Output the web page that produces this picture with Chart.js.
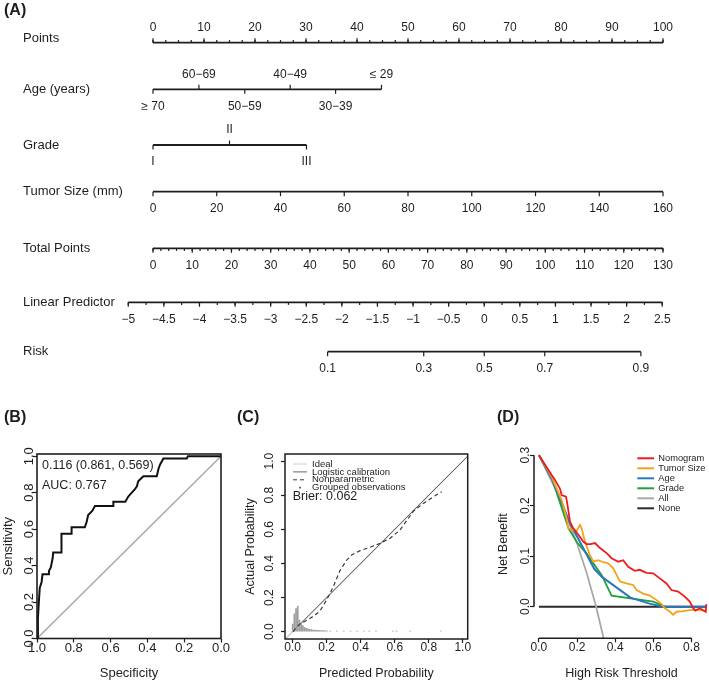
<!DOCTYPE html>
<html>
<head>
<meta charset="utf-8">
<title>Nomogram, ROC, calibration and decision curves</title>
<script src="https://cdn.jsdelivr.net/npm/chart.js@4.4.1/dist/chart.umd.min.js"></script>
<style>
  html, body { margin: 0; padding: 0; background: #fff; }
  #fig { position: relative; width: 709px; height: 682px; overflow: hidden;
         font-family: "Liberation Sans", Arial, sans-serif; color: #1e1e1e; }
  #fig canvas { position: absolute; }
  .tag { position: absolute; font-weight: bold; font-size: 16px; line-height: 18px; }
</style>
</head>
<body>
<div id="fig">
  <canvas id="nomo" width="709" height="400" style="left:0;top:0"></canvas>
  <canvas id="roc" width="232" height="282" style="left:0;top:400px"></canvas>
  <canvas id="cal" width="245" height="282" style="left:230px;top:400px"></canvas>
  <canvas id="dca" width="244" height="282" style="left:465px;top:400px"></canvas>
  <div class="tag" style="left:4px;top:1px">(A)</div>
  <div class="tag" style="left:4px;top:408px">(B)</div>
  <div class="tag" style="left:237px;top:408px">(C)</div>
  <div class="tag" style="left:497px;top:408px">(D)</div>
</div>
<script>
const FONT = '"Liberation Sans", Arial, Helvetica, sans-serif';
const INK = '#1e1e1e';

// ---------- (A) nomogram ----------
const pointsTicks = [0, 10, 20, 30, 40, 50, 60, 70, 80, 90, 100];
const ageLabels = ['≥ 70', '60−69', '50−59', '40−49', '30−39', '≤ 29'];
const agePoints = [0, 9, 18, 26.9, 35.8, 44.8];
const gradeLabels = ['I', 'II', 'III'];
const gradePoints = [0, 15, 30.1];
const tumorTicks = [0, 20, 40, 60, 80, 100, 120, 140, 160];
const totalTicks = [0, 10, 20, 30, 40, 50, 60, 70, 80, 90, 100, 110, 120, 130];
const lpTicks = [-5, -4.5, -4, -3.5, -3, -2.5, -2, -1.5, -1, -0.5, 0, 0.5, 1, 1.5, 2, 2.5];
const riskTicks = [0.1, 0.3, 0.5, 0.7, 0.9];
const riskLP = [-2.2, -0.85, 0, 0.85, 2.2];

// ---------- (B) ROC ----------
const rocSpec = [1.0, 0.995, 0.99, 0.985, 0.975, 0.97, 0.94, 0.935, 0.925, 0.915, 0.912, 0.867, 0.867,
  0.812, 0.812, 0.74, 0.73, 0.722, 0.70, 0.685, 0.585, 0.585, 0.52, 0.504, 0.485, 0.47, 0.457, 0.45,
  0.422, 0.349, 0.34, 0.331, 0.313, 0.186, 0.18, 0.0];
const rocSens = [0.0, 0.11, 0.2, 0.277, 0.31, 0.352, 0.352, 0.37, 0.39, 0.44, 0.472, 0.472, 0.574,
  0.574, 0.61, 0.61, 0.64, 0.677, 0.70, 0.727, 0.727, 0.75, 0.75, 0.779, 0.80, 0.816, 0.835, 0.863,
  0.89, 0.89, 0.93, 0.955, 0.987, 0.987, 1.0, 1.0];
const rocTicks = [0, 0.2, 0.4, 0.6, 0.8, 1.0];

// ---------- (C) calibration ----------
const calX = [0.004, 0.02, 0.043, 0.08, 0.121, 0.16, 0.19, 0.215, 0.239, 0.278, 0.318, 0.347, 0.396,
  0.455, 0.514, 0.572, 0.631, 0.71, 0.768, 0.827, 0.876];
const calY = [0.0, 0.025, 0.045, 0.065, 0.09, 0.12, 0.17, 0.215, 0.264, 0.358, 0.42, 0.45, 0.475,
  0.495, 0.518, 0.547, 0.596, 0.707, 0.752, 0.791, 0.82];
const logisticX = [0.0, 1.05];
const logisticY = [0.0, 1.05];
const idealX = [-0.05, 1.05];
const idealY = [-0.05, 1.05];
const spikeX = [0.0, 0.01, 0.02, 0.03, 0.04, 0.05, 0.06, 0.07, 0.08, 0.09, 0.10, 0.11, 0.12, 0.13,
  0.14, 0.15, 0.16, 0.17, 0.18, 0.19, 0.20, 0.22, 0.26, 0.30, 0.34, 0.38, 0.42, 0.45, 0.49, 0.59, 0.61,
  0.69, 0.87];
const spikeH = [0.045, 0.105, 0.135, 0.15, 0.068, 0.05, 0.035, 0.025, 0.02, 0.016, 0.014, 0.012, 0.01,
  0.009, 0.008, 0.008, 0.007, 0.006, 0.006, 0.005, 0.005, 0.004, 0.004, 0.004, 0.004, 0.004, 0.004,
  0.004, 0.004, 0.004, 0.004, 0.004, 0.004];
const calTicks = [0, 0.2, 0.4, 0.6, 0.8, 1.0];

// ---------- (D) decision curves ----------
const thrNomo = [0, 0.066, 0.084, 0.11, 0.119, 0.142, 0.149, 0.163, 0.18, 0.206, 0.232, 0.25, 0.27,
  0.294, 0.32, 0.355, 0.381, 0.416, 0.442, 0.468, 0.503, 0.529, 0.564, 0.599, 0.634, 0.669, 0.695,
  0.73, 0.765, 0.791, 0.809, 0.82, 0.844, 0.861, 0.875, 0.878];
const nbNomo = [0.3, 0.261, 0.251, 0.234, 0.221, 0.218, 0.203, 0.168, 0.155, 0.143, 0.129, 0.124, 0.124,
  0.126, 0.116, 0.106, 0.096, 0.089, 0.092, 0.079, 0.071, 0.073, 0.067, 0.066, 0.056, 0.046, 0.033,
  0.03, 0.02, 0.01, -0.003, -0.008, -0.003, -0.007, -0.01, 0.005];
const thrTumor = [0, 0.066, 0.12, 0.145, 0.154, 0.18, 0.197, 0.215, 0.224, 0.241, 0.267, 0.285, 0.311,
  0.337, 0.363, 0.39, 0.407, 0.425, 0.459, 0.494, 0.512, 0.547, 0.582, 0.617, 0.643, 0.66, 0.687,
  0.704, 0.722, 0.756, 0.791, 0.826, 0.861, 0.878];
const nbTumor = [0.3, 0.258, 0.21, 0.175, 0.155, 0.152, 0.15, 0.162, 0.155, 0.129, 0.102, 0.089, 0.092,
  0.088, 0.086, 0.076, 0.063, 0.05, 0.046, 0.043, 0.033, 0.026, 0.022, 0.013, 0.005, -0.003, -0.01,
  -0.016, -0.01, -0.009, -0.007, -0.006, -0.008, -0.008];
const thrAge = [0, 0.07, 0.163, 0.29, 0.33, 0.48, 0.58, 0.65, 0.878];
const nbAge = [0.3, 0.252, 0.165, 0.075, 0.059, 0.018, 0.006, 0.0, 0.0];
const thrGrade = [0, 0.07, 0.155, 0.2, 0.25, 0.33, 0.381, 0.6, 0.66];
const nbGrade = [0.3, 0.252, 0.155, 0.127, 0.105, 0.062, 0.022, 0.01, 0.0];
const thrAll = [0, 0.1, 0.2, 0.25, 0.3, 0.35];
const nbAll = [0.3, 0.222, 0.125, 0.067, 0.0, -0.08];
const thrNone = [0, 0.878];
const nbNone = [0, 0];
const dcaXTicks = [0, 0.2, 0.4, 0.6, 0.8];
const dcaYTicks = [0, 0.1, 0.2, 0.3];

Chart.defaults.font.family = FONT;
Chart.defaults.color = INK;
Chart.defaults.animation = false;
Chart.defaults.events = [];
Chart.defaults.plugins.legend.display = false;
Chart.defaults.plugins.tooltip.enabled = false;

const fmt = v => (v < 0 ? '−' + Math.abs(v) : String(v));
const pts = (xs, ys) => xs.map((x, i) => ({ x: x, y: ys[i] }));
function stepTicks(a, b, step) {
  const out = [];
  for (let v = a; v <= b + 1e-9; v += step) out.push(+v.toFixed(4));
  return out;
}
function curve(label, xs, ys, color, width, dash) {
  return { label: label, data: pts(xs, ys), showLine: true, borderColor: color, backgroundColor: color,
    borderWidth: width, borderDash: dash || [], pointRadius: 0, tension: 0 };
}

// ---- nomogram ----
const tumorPts = v => v * 100 / 160;
const totalPts = v => v * 100 / 130;
const lpPts = v => 64.95 + v * 13.96;

const nomoRows = [
  { name: 'Points', line: [0, 100],
    major: pointsTicks.map(v => ({ p: v, text: fmt(v), up: true })),
    minor: stepTicks(0, 100, 2.5).map(v => ({ p: v, up: true })) },
  { name: 'Age (years)', line: [agePoints[0], agePoints[agePoints.length - 1]],
    major: ageLabels.map((t, i) => ({ p: agePoints[i], text: t, up: i % 2 === 1 })), minor: [] },
  { name: 'Grade', line: [gradePoints[0], gradePoints[gradePoints.length - 1]],
    major: gradeLabels.map((t, i) => ({ p: gradePoints[i], text: t, up: i === 1 })), minor: [] },
  { name: 'Tumor Size (mm)', line: [tumorPts(0), tumorPts(160)],
    major: tumorTicks.map(v => ({ p: tumorPts(v), text: fmt(v) })), minor: [] },
  { name: 'Total Points', line: [totalPts(0), totalPts(130)],
    major: totalTicks.map(v => ({ p: totalPts(v), text: fmt(v) })),
    minor: stepTicks(0, 130, 2).map(v => ({ p: totalPts(v) })) },
  { name: 'Linear Predictor', line: [lpPts(-5), lpPts(2.5)],
    major: lpTicks.map(v => ({ p: lpPts(v), text: fmt(v) })),
    minor: stepTicks(-5, 2.5, 0.25).map(v => ({ p: lpPts(v) })) },
  { name: 'Risk', line: [lpPts(riskLP[0]), lpPts(riskLP[riskLP.length - 1])],
    major: riskTicks.map((v, i) => ({ p: lpPts(riskLP[i]), text: fmt(v) })), minor: [] }
];
// layout: vertical place of each axis line, and nudge of its name
const rowY = [42.7, 89.3, 145, 191.7, 248.3, 302.3, 351.7];
const nameDy = [-4, 0, 0, 0, 0, 0, 0];

const nomoPlugin = {
  id: 'nomo',
  afterDatasetsDraw(chart) {
    const { ctx, scales: { x, y } } = chart;
    ctx.save();
    ctx.strokeStyle = INK;
    ctx.fillStyle = INK;
    ctx.lineWidth = 1.2;
    nomoRows.forEach((r, i) => {
      const py = y.getPixelForValue(rowY[i]);
      const draw = (t, len) => {
        const px = x.getPixelForValue(t.p);
        const dir = t.up ? -1 : 1;
        ctx.beginPath();
        ctx.moveTo(px, py);
        ctx.lineTo(px, py + dir * len);
        ctx.stroke();
      };
      r.minor.forEach(t => draw(t, 2.6));
      ctx.font = '12px ' + FONT;
      ctx.textAlign = 'center';
      ctx.textBaseline = 'middle';
      r.major.forEach(t => {
        draw(t, 4.5);
        ctx.fillText(t.text, x.getPixelForValue(t.p), py + (t.up ? -15 : 17));
      });
      ctx.font = '13px ' + FONT;
      ctx.textAlign = 'left';
      ctx.fillText(r.name, 23, py + nameDy[i]);
    });
    ctx.restore();
  }
};

new Chart(document.getElementById('nomo'), {
  type: 'scatter',
  data: { datasets: nomoRows.map((r, i) => curve(r.name, r.line, [rowY[i], rowY[i]], INK, 1.8)) },
  options: {
    responsive: false,
    layout: { padding: 0 },
    scales: {
      x: { type: 'linear', display: false, min: -30, max: 109.02 },
      y: { type: 'linear', display: false, min: 0, max: 400, reverse: true }
    }
  },
  plugins: [nomoPlugin]
});

// ---- shared helpers for the small panels ----
const framePlugin = {
  id: 'frame',
  afterDraw(chart, args, o) {
    const a = chart.chartArea, ctx = chart.ctx;
    ctx.save();
    ctx.strokeStyle = INK;
    ctx.lineWidth = o.width || 1.5;
    ctx.strokeRect(a.left, a.top, a.width, a.height);
    ctx.restore();
  }
};
const rotYTicks = {
  id: 'rotY',
  afterDraw(chart, args, o) {
    const s = chart.scales.y, ctx = chart.ctx;
    ctx.save();
    ctx.font = o.size + 'px ' + FONT;
    ctx.fillStyle = INK;
    ctx.textAlign = 'center';
    ctx.textBaseline = 'middle';
    s.ticks.forEach(t => {
      ctx.save();
      ctx.translate(chart.chartArea.left - o.offset, s.getPixelForValue(t.value));
      ctx.rotate(-Math.PI / 2);
      ctx.fillText(t.value.toFixed(1), 0, 0);
      ctx.restore();
    });
    ctx.restore();
  }
};
const notePlugin = {
  id: 'notes',
  afterDraw(chart, args, o) {
    const a = chart.chartArea, ctx = chart.ctx;
    ctx.save();
    ctx.fillStyle = INK;
    ctx.textAlign = 'left';
    ctx.textBaseline = 'middle';
    o.items.forEach(n => {
      ctx.font = n.size + 'px ' + FONT;
      ctx.fillText(n.text, a.left + n.dx, a.top + n.dy);
    });
    ctx.restore();
  }
};
const keyPlugin = {
  id: 'keys',
  afterDraw(chart, args, o) {
    const a = chart.chartArea, ctx = chart.ctx;
    ctx.save();
    ctx.font = o.size + 'px ' + FONT;
    ctx.textAlign = 'left';
    ctx.textBaseline = 'middle';
    o.items.forEach((k, i) => {
      const yy = a.top + o.top + i * o.step;
      const x0 = a.left + o.left;
      ctx.strokeStyle = k.color;
      ctx.fillStyle = k.color;
      if (k.dot) {
        ctx.beginPath();
        ctx.arc(x0 + o.len / 2, yy, 0.9, 0, Math.PI * 2);
        ctx.fill();
      } else {
        ctx.lineWidth = k.width;
        ctx.setLineDash(k.dash || []);
        ctx.beginPath();
        ctx.moveTo(x0, yy);
        ctx.lineTo(x0 + o.len, yy);
        ctx.stroke();
        ctx.setLineDash([]);
      }
      ctx.fillStyle = INK;
      ctx.fillText(k.label, x0 + o.len + o.gap, yy);
    });
    ctx.restore();
  }
};
const axisLinePlugin = {
  id: 'axisLines',
  afterDraw(chart, args, o) {
    const { x, y } = chart.scales, a = chart.chartArea, ctx = chart.ctx;
    ctx.save();
    ctx.strokeStyle = INK;
    ctx.lineWidth = 1.5;
    ctx.beginPath();
    ctx.moveTo(x.getPixelForValue(o.x[0]), a.bottom);
    ctx.lineTo(x.getPixelForValue(o.x[1]), a.bottom);
    ctx.moveTo(a.left, y.getPixelForValue(o.y[0]));
    ctx.lineTo(a.left, y.getPixelForValue(o.y[1]));
    ctx.stroke();
    ctx.restore();
  }
};
const tickGrid = { display: true, drawOnChartArea: false, drawTicks: true, tickLength: 4,
  tickColor: INK, tickWidth: 1.2 };
function xAxis(opt) {
  return {
    type: 'linear', min: opt.min, max: opt.max, reverse: !!opt.reverse, offset: false,
    afterBuildTicks: s => { s.ticks = opt.ticks.map(v => ({ value: v })); },
    afterFit: s => { s.height = opt.height; },
    ticks: { autoSkip: false, maxRotation: 0, padding: opt.pad, callback: v => v.toFixed(1),
      font: { size: opt.size, lineHeight: 1.2 }, color: INK },
    grid: Object.assign({ offset: false }, tickGrid),
    border: { display: false },
    title: { display: true, text: opt.title, color: INK, font: { size: opt.titleSize, lineHeight: 1.2 },
      padding: { top: 0, bottom: opt.titlePad } }
  };
}
function yAxis(opt) {
  return {
    type: 'linear', min: opt.min, max: opt.max,
    afterBuildTicks: s => { s.ticks = opt.ticks.map(v => ({ value: v })); },
    afterFit: s => { s.width = opt.width; },
    ticks: { display: false },
    grid: tickGrid,
    border: { display: false },
    title: { display: true, text: opt.title, color: INK, font: { size: opt.titleSize, lineHeight: 1.2 },
      padding: { top: opt.titlePad, bottom: 0 } }
  };
}

// ---- (B) ROC ----
new Chart(document.getElementById('roc'), {
  type: 'scatter',
  data: { datasets: [
    curve('ROC', rocSpec, rocSens, '#111', 2),
    curve('Chance', [1, 0], [0, 1], '#a8a8a8', 1.5)
  ] },
  options: {
    responsive: false,
    layout: { padding: { left: 0, top: 54, right: 11, bottom: 0 } },
    scales: {
      x: xAxis({ min: 0, max: 1, reverse: true, ticks: rocTicks, height: 43.5, pad: -2.3, size: 13,
        title: 'Specificity', titleSize: 13, titlePad: 1.2 }),
      y: yAxis({ min: 0, max: 1.012, ticks: rocTicks, width: 37, title: 'Sensitivity', titleSize: 13,
        titlePad: 0.2 })
    },
    plugins: {
      frame: { width: 1.6 },
      rotY: { offset: 8, size: 13 },
      notes: { items: [
        { text: '0.116 (0.861, 0.569)', dx: 5, dy: 12, size: 12.5 },
        { text: 'AUC: 0.767', dx: 5, dy: 32, size: 12.5 }
      ] }
    }
  },
  plugins: [framePlugin, rotYTicks, notePlugin]
});

// ---- (C) calibration ----
new Chart(document.getElementById('cal'), {
  type: 'scatter',
  data: { datasets: [
    curve('Nonparametric', calX, calY, '#3a3a3a', 1.2, [4, 3]),
    curve('Logistic calibration', logisticX, logisticY, '#666', 1),
    curve('Ideal', idealX, idealY, '#d2d2d2', 1.5),
    { type: 'bar', label: 'Predicted', data: pts(spikeX, spikeH), backgroundColor: '#9c9c9c',
      borderWidth: 0, barThickness: 1, grouped: false }
  ] },
  options: {
    responsive: false,
    layout: { padding: { left: 0, top: 54, right: 7.3, bottom: 0 } },
    scales: {
      x: xAxis({ min: -0.045, max: 1.029, ticks: calTicks, height: 43, pad: -2.5, size: 12,
        title: 'Predicted Probability', titleSize: 12.5, titlePad: 0.5 }),
      y: yAxis({ min: -0.043, max: 1.042, ticks: calTicks, width: 55, title: 'Actual Probability',
        titleSize: 12.5, titlePad: 13.5 })
    },
    plugins: {
      frame: { width: 1.5 },
      rotY: { offset: 15, size: 12 },
      keys: { size: 9.5, left: 8, len: 14, gap: 5, top: 10, step: 7.9, items: [
        { label: 'Ideal', color: '#d2d2d2', width: 1 },
        { label: 'Logistic calibration', color: '#666', width: 1 },
        { label: 'Nonparametric', color: '#3a3a3a', width: 1, dash: [4, 3] },
        { label: 'Grouped observations', color: '#3a3a3a', dot: true }
      ] },
      notes: { items: [{ text: 'Brier: 0.062', dx: 7.7, dy: 43, size: 12.5 }] }
    }
  },
  plugins: [framePlugin, rotYTicks, keyPlugin, notePlugin]
});

// ---- (D) decision curves ----
const dcaSets = [
  curve('Nomogram', thrNomo, nbNomo, '#ee1c1c', 1.8),
  curve('Tumor Size', thrTumor, nbTumor, '#f2a31b', 1.8),
  curve('Age', thrAge, nbAge, '#2878be', 2),
  curve('Grade', thrGrade, nbGrade, '#22a03c', 1.8),
  curve('All', thrAll, nbAll, '#a9a9a9', 1.8),
  curve('None', thrNone, nbNone, '#2a2a2a', 2)
];
new Chart(document.getElementById('dca'), {
  type: 'scatter',
  data: { datasets: dcaSets },
  options: {
    responsive: false,
    layout: { padding: { left: 0, top: 50.1, right: 0, bottom: 0 } },
    scales: {
      x: xAxis({ min: -0.026, max: 0.892, ticks: dcaXTicks, height: 43.7, pad: -1.8, size: 12,
        title: 'High Risk Threshold', titleSize: 12.5, titlePad: 0.5 }),
      y: yAxis({ min: -0.0626, max: 0.31, ticks: dcaYTicks, width: 69, title: 'Net Benefit',
        titleSize: 12.5, titlePad: 31.5 })
    },
    plugins: {
      axisLines: { x: [0, 0.8], y: [0, 0.3] },
      rotY: { offset: 8, size: 12 },
      keys: { size: 9.3, left: 103.3, len: 16.7, gap: 4.3, top: 8.2, step: 10,
        items: dcaSets.map(d => ({ label: d.label, color: d.borderColor, width: 2 })) }
    }
  },
  plugins: [axisLinePlugin, rotYTicks, keyPlugin]
});
</script>
</body>
</html>
